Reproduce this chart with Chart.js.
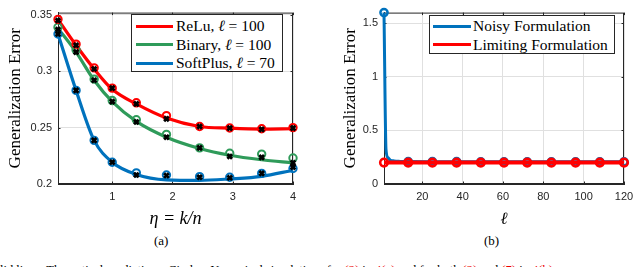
<!DOCTYPE html>
<html>
<head>
<meta charset="utf-8">
<script src="https://cdn.jsdelivr.net/npm/chart.js@4"></script>
<style>
  body { margin: 0; width: 640px; height: 267px; overflow: hidden; background: #fff; position: relative; }
  canvas { position: absolute; top: 0; }
  .legend { position: absolute; box-sizing: border-box; border: 1px solid #262626; background: #fff;
            font-family: 'Liberation Serif', 'DejaVu Serif', serif; font-size: 15.5px; color: #000; }
  .row { position: absolute; left: 0; height: 18px; line-height: 18px; white-space: nowrap; }
  .swatch { position: absolute; top: 7.5px; height: 3px; }
  .row span.lbl { position: absolute; top: 0; }
  .sub { position: absolute; font-family: 'Liberation Serif', 'DejaVu Serif', serif; font-size: 13px; color: #000; }
  .caption { position: absolute; left: 0; top: 262.5px; white-space: nowrap;
             font-family: 'Liberation Serif', 'DejaVu Serif', serif; font-size: 12.5px; color: #000; }
  .caption .ref { color: #e00; }
</style>
</head>
<body>
<canvas id="leftChart" width="320" height="230" style="left:0"></canvas>
<canvas id="rightChart" width="320" height="230" style="left:320px"></canvas>

<div class="legend" style="left:131px; top:14px; width:152px; height:58px">
  <div class="row" style="top:2px"><div class="swatch" style="left:4px;width:37px;background:#ff0000"></div><span class="lbl" style="left:44px">ReLu, <i>ℓ</i> = 100</span></div>
  <div class="row" style="top:20.5px"><div class="swatch" style="left:4px;width:37px;background:#2f9b5a"></div><span class="lbl" style="left:44px">Binary, <i>ℓ</i> = 100</span></div>
  <div class="row" style="top:39px"><div class="swatch" style="left:4px;width:37px;background:#0072bd"></div><span class="lbl" style="left:44px">SoftPlus, <i>ℓ</i> = 70</span></div>
</div>

<div class="legend" style="left:429px; top:15px; width:186px; height:39px">
  <div class="row" style="top:1px"><div class="swatch" style="left:3px;width:38px;background:#0072bd"></div><span class="lbl" style="left:43px">Noisy Formulation</span></div>
  <div class="row" style="top:19.5px"><div class="swatch" style="left:3px;width:38px;background:#ff0000"></div><span class="lbl" style="left:43px">Limiting Formulation</span></div>
</div>

<div class="sub" style="left:154px; top:233px">(a)</div>
<div class="sub" style="left:484px; top:233px">(b)</div>
<div class="caption">lid lines: Theoretical predictions. Circles: Numerical simulations for <span class="ref">(2)</span> in <span class="ref">4(a)</span> and for both <span class="ref">(2)</span> and <span class="ref">(7)</span> in <span class="ref">4(b)</span>.</div>

<script>
// panel (a): error vs eta = k/n
const etaX = [0.1, 0.4, 0.7, 1.0, 1.4, 1.9, 2.45, 2.95, 3.48, 4.0];
const reluLine  = [0.346, 0.323, 0.302, 0.284, 0.271, 0.2585, 0.2510, 0.2495, 0.2487, 0.2490];
const reluCirc  = [0.346, 0.324, 0.303, 0.285, 0.272, 0.2606, 0.2510, 0.2497, 0.2490, 0.2500];
const reluCross = [0.345, 0.323, 0.302, 0.285, 0.271, 0.2577, 0.2510, 0.2495, 0.2485, 0.2495];
const binLine   = [0.338, 0.317, 0.292, 0.273, 0.2555, 0.2415, 0.2315, 0.2255, 0.2215, 0.2188];
const binCirc   = [0.339, 0.319, 0.293, 0.274, 0.2570, 0.2440, 0.2320, 0.2273, 0.2265, 0.2230];
const binCross  = [0.337, 0.317, 0.292, 0.273, 0.2550, 0.2415, 0.2320, 0.2244, 0.2236, 0.2188];
const softLine  = [0.333, 0.283, 0.2387, 0.2193, 0.2085, 0.2037, 0.2032, 0.2045, 0.2068, 0.2122];
const softCirc  = [0.333, 0.283, 0.2387, 0.2193, 0.2099, 0.2080, 0.2065, 0.2060, 0.2094, 0.2137];
const softCross = [0.333, 0.283, 0.2387, 0.2193, 0.2080, 0.2075, 0.2060, 0.2055, 0.2094, 0.2150];
const etaTicks = [1, 2, 3, 4];
const errTicksA = [0.2, 0.25, 0.3, 0.35];

// panel (b): error vs ell
const noisyX = [1, 2, 3, 4, 6, 9, 13, 25, 49, 84, 120];
const noisyY = [1.6, 0.32, 0.245, 0.225, 0.215, 0.211, 0.209, 0.208, 0.207, 0.207, 0.207];
const ellMarks = [1, 13, 25, 37, 49, 60.5, 72, 84, 96, 108, 120];
const noisyMarkY = [1.6, 0.209, 0.208, 0.208, 0.207, 0.207, 0.207, 0.207, 0.207, 0.207, 0.207];
const limitY = [0.2, 0.2, 0.2, 0.2, 0.2, 0.2, 0.2, 0.2, 0.2, 0.2, 0.2];
const ellTicks = [20, 40, 60, 80, 100, 120];
const errTicksB = [0, 0.5, 1, 1.5];

const RED = '#ff0000', GREEN = '#2f9b5a', BLUE = '#0072bd';
const AXIS = '#262626', GRID = '#e0e0e0';
const SANS = "'Liberation Sans', Arial, sans-serif";
const SERIF = "'Liberation Serif', 'DejaVu Serif', serif";

function pts(xs, ys) {
  return xs.map((x, i) => ({ x: x, y: ys[i] }));
}

function lineSet(xs, ys, color, width) {
  return {
    data: pts(xs, ys), borderColor: color, borderWidth: width, pointRadius: 0,
    showLine: true, cubicInterpolationMode: 'monotone', clip: false, order: 2
  };
}

function circleSet(xs, ys, color, r, bw) {
  return {
    data: pts(xs, ys), showLine: false, pointStyle: 'circle', pointRadius: r,
    pointBorderWidth: bw, borderColor: color, pointBorderColor: color,
    pointBackgroundColor: 'rgba(255,255,255,0)', clip: false, order: 1
  };
}

function crossSet(xs, ys) {
  return {
    data: pts(xs, ys), showLine: false, pointStyle: 'crossRot', pointRadius: 3.3,
    pointBorderWidth: 2.8, pointBorderColor: '#000', borderColor: '#000', clip: false, order: 0
  };
}

// box round the plot area plus MATLAB style inward ticks
const boxPlugin = {
  id: 'box',
  beforeDatasetsDraw(chart) {
    const a = chart.chartArea, ctx = chart.ctx;
    ctx.save();
    ctx.strokeStyle = AXIS;
    ctx.lineWidth = 1;
    ctx.strokeRect(a.left + 0.5, a.top + 0.5, a.right - a.left - 1, a.bottom - a.top - 1);
    const tl = 2.5;
    ctx.beginPath();
    chart.scales.x.ticks.forEach(t => {
      const px = Math.round(chart.scales.x.getPixelForValue(t.value)) + 0.5;
      ctx.moveTo(px, a.bottom); ctx.lineTo(px, a.bottom - tl);
      ctx.moveTo(px, a.top); ctx.lineTo(px, a.top + tl);
    });
    chart.scales.y.ticks.forEach(t => {
      const py = Math.round(chart.scales.y.getPixelForValue(t.value)) + 0.5;
      ctx.moveTo(a.left, py); ctx.lineTo(a.left + tl, py);
      ctx.moveTo(a.right, py); ctx.lineTo(a.right - tl, py);
    });
    ctx.stroke();
    ctx.restore();
  }
};

function axisOptions(cfg) {
  return {
    x: {
      type: 'linear', min: cfg.xmin, max: cfg.xmax,
      afterBuildTicks: s => { s.ticks = cfg.xticks.map(v => ({ value: v })); },
      afterFit: s => { s.height = 46; },
      grid: { color: GRID, drawTicks: false },
      border: { color: AXIS, width: 1 },
      ticks: { padding: 6, color: AXIS, font: { family: SANS, size: 11 }, callback: v => String(v) },
      title: { display: true, text: cfg.xtitle, color: '#000',
               font: { family: SERIF, size: cfg.xtitleSize, style: 'italic' }, padding: { top: 6, bottom: 0 } }
    },
    y: {
      type: 'linear', min: cfg.ymin, max: cfg.ymax,
      afterBuildTicks: s => { s.ticks = cfg.yticks.map(v => ({ value: v })); },
      afterFit: s => { s.width = cfg.yw; },
      grid: { color: GRID, drawTicks: false },
      border: { color: AXIS, width: 1 },
      ticks: { padding: 6, color: AXIS, font: { family: SANS, size: 11 }, callback: v => String(v) },
      title: { display: true, text: 'Generalization Error', color: '#000',
               font: { family: SERIF, size: 17 }, padding: { top: cfg.ytitlePad, bottom: 0 } }
    }
  };
}

new Chart(document.getElementById('leftChart'), {
  type: 'scatter',
  data: {
    datasets: [
      lineSet(etaX, reluLine, RED, 3.2),
      lineSet(etaX, binLine, GREEN, 3.2),
      lineSet(etaX, softLine, BLUE, 3.2),
      circleSet(etaX, reluCirc, RED, 3.7, 2),
      circleSet(etaX, binCirc, GREEN, 3.7, 2),
      circleSet(etaX, softCirc, BLUE, 3.7, 2),
      crossSet(etaX, reluCross),
      crossSet(etaX, binCross),
      crossSet(etaX, softCross)
    ]
  },
  options: {
    responsive: false, animation: false, devicePixelRatio: 1,
    layout: { padding: { top: 5, right: 27, left: 0, bottom: 0 } },
    plugins: { legend: { display: false }, tooltip: { enabled: false } },
    scales: axisOptions({
      xmin: 0.1, xmax: 4, xticks: etaTicks, xtitle: 'η = k/n', xtitleSize: 18,
      ymin: 0.2, ymax: 0.352, yticks: errTicksA, yw: 58, ytitlePad: 5
    })
  },
  plugins: [boxPlugin]
});

new Chart(document.getElementById('rightChart'), {
  type: 'scatter',
  data: {
    datasets: [
      lineSet(noisyX, noisyY, BLUE, 3),
      circleSet(ellMarks, noisyMarkY, BLUE, 3.6, 2.5),
      Object.assign(lineSet(ellMarks, limitY, RED, 4), { order: 0, pointRadius: 3.8, pointStyle: 'circle',
        pointBorderWidth: 2.6, pointBorderColor: RED, pointBackgroundColor: 'rgba(255,255,255,0)' })
    ]
  },
  options: {
    responsive: false, animation: false, devicePixelRatio: 1,
    layout: { padding: { top: 5, right: 16, left: 0, bottom: 0 } },
    plugins: { legend: { display: false }, tooltip: { enabled: false } },
    scales: axisOptions({
      xmin: 1, xmax: 120, xticks: ellTicks, xtitle: 'ℓ', xtitleSize: 17,
      ymin: 0, ymax: 1.6, yticks: errTicksB, yw: 64, ytitlePad: 20
    })
  },
  plugins: [boxPlugin]
});
</script>
</body>
</html>
